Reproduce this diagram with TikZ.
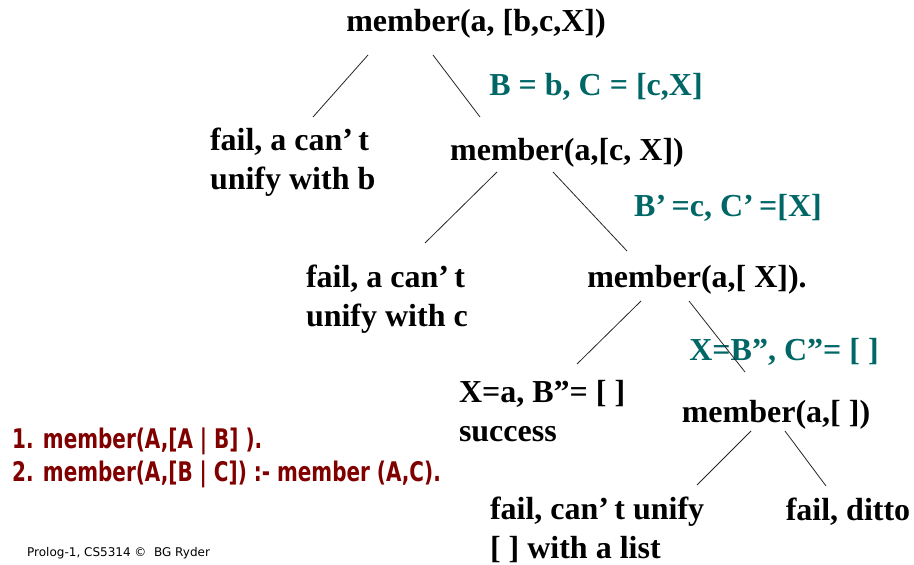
\documentclass[tikz,border=0pt]{standalone}
\usepackage{fontspec}
\setmainfont{Liberation Serif}
\newfontfamily\codefont{DejaVu Sans}[FakeStretch=0.74]
\newfontfamily\piedfont{DejaVu Sans}
\usetikzlibrary{calc}

\definecolor{unifcol}{RGB}{0,102,102}
\definecolor{codecol}{RGB}{128,0,0}

\tikzset{
  arbre/.style={font=\bfseries\fontsize{32}{39}\selectfont, inner sep=0pt, outer sep=0pt},
  texte/.style={arbre, align=left, anchor=west},
  subst/.style={arbre, text=unifcol},
  branche/.style={draw=black!85, line width=0.8pt},
  regles/.style={font=\codefont\bfseries\fontsize{27}{33}\selectfont, text=codecol, align=left, anchor=west, inner sep=0pt},
  pied/.style={font=\piedfont\fontsize{12}{14}\selectfont, anchor=west, inner sep=0pt}
}

\begin{document}
\begin{tikzpicture}[x=1pt, y=-1pt]
  \useasboundingbox (0,0) rectangle (914,565);

  % Les buts
  \node[arbre] (root) at (476,24) {member(a, [b,c,X])};
  \node[texte] (fail1) at (210,162) {fail, a can’\,t\\unify with b};
  \node[arbre] (mem2) at (567,153) {member(a,[c, X])};
  \node[texte] (fail2) at (306,299) {fail, a can’\,t\\unify with c};
  \node[arbre] (mem3) at (697,280) {member(a,[ X]).};
  \node[texte] (succ) at (459,411) {X=a, B”= [ ]\\success};
  \node[arbre] (mem4) at (776,415) {member(a,[ ])};
  \node[texte] (fail3) at (490,530) {fail, can’\,t unify\\{[ ]} with a list};
  \node[arbre] (ditto) at (848,512) {fail, ditto};

  % Les substitutions
  \node[subst] (sub1) at (596,87) {B = b, C = [c,X]};
  \node[subst] (sub2) at (728,208) {B’\,=c, C’\,=[X]};
  \node[subst] (sub3) at (784,352) {X=B”, C”= [ ]};

  % Les branches
  \draw[branche] ($(root)+(-108,31)$) -- ($(fail1.west)+(103,-45)$);
  \draw[branche] ($(root)+(-43,31)$) -- ($(mem2)+(-87,-36)$);
  \draw[branche] ($(mem2)+(-70,19)$) -- ($(fail2.west)+(119,-56)$);
  \draw[branche] ($(mem2)+(-14,19)$) -- ($(mem3)+(-70,-29)$);
  \draw[branche] ($(mem3)+(-56,21)$) -- ($(succ.west)+(118,-47)$);
  \draw[branche] ($(mem3)+(-8,21)$) -- ($(mem4)+(-31,-43)$);
  \draw[branche] ($(mem4)+(-25,16)$) -- ($(fail3.west)+(207,-45)$);
  \draw[branche] ($(mem4)+(9,16)$) -- ($(ditto)+(-22,-26)$);

  % Le programme
  \node[regles] (prog) at (12,457.5) {1. member(A,[A | B] ).\\2. member(A,[B | C]) :- member (A,C).};
  \node[pied] (credit) at (27,553) {Prolog-1, CS5314 ©\ \ BG Ryder};
\end{tikzpicture}
\end{document}
